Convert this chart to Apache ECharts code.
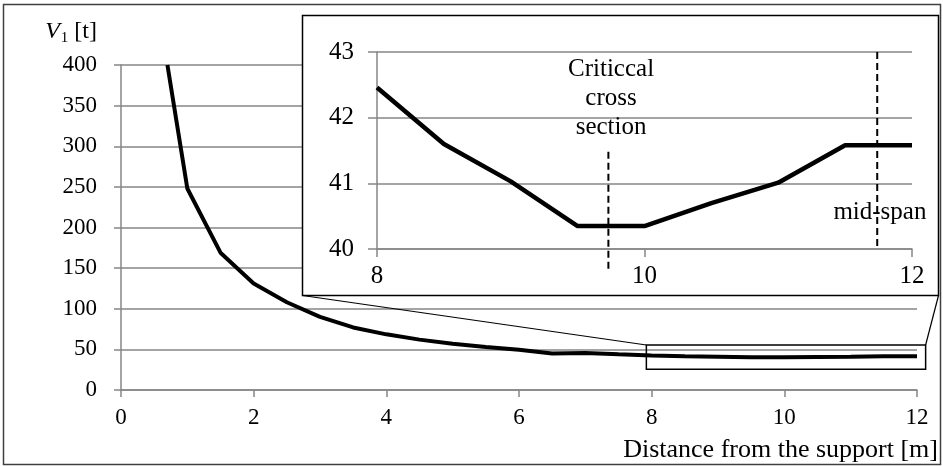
<!DOCTYPE html>
<html><head><meta charset="utf-8">
<script src="https://cdn.jsdelivr.net/npm/echarts@6/dist/echarts.min.js"></script>
<style>html,body{margin:0;padding:0;background:#fff;overflow:hidden}#c{width:943px;height:466px}</style>
</head><body><div id="c"></div>
<script>
// ---- data ----
const distance = [0.7, 1, 1.5, 2, 2.5, 3, 3.5, 4, 4.5, 5, 5.5, 6, 6.5, 7, 7.5, 8, 8.5, 9, 9.5, 10, 10.5, 11, 11.5, 12];
const shearV1  = [400, 248, 169, 131, 108, 90, 77, 68.5, 62, 57, 53, 49.5, 45, 45.6, 44, 42.46, 41.6, 41.03, 40.35, 40.35, 40.7, 41.01, 41.58, 41.58];
const mainXTicks = [0, 2, 4, 6, 8, 10, 12];
const mainYTicks = [0, 50, 100, 150, 200, 250, 300, 350, 400];
const insetXTicks = [8, 10, 12];
const insetYTicks = [40, 41, 42, 43];
const criticalSectionX = 9.73;
const criticalLineY = [41.48, 39.64];
const midSpanX = 11.74;
const midSpanLineY = [43, 40];
const criticalLabel = 'Criticcal\ncross\nsection';
const criticalLabelAt = [9.75, 42.3];
const midSpanLabel = 'mid-span';
const midSpanLabelAt = [11.76, 40.56];
const zoomWindowX = [7.92, 12.13];
const zoomWindowY = [25.5, 55.4];
const xTitle = 'Distance from the support [m]';

const FONT = "'Liberation Serif','Times New Roman',serif";
const GRID_C = '#868686';
const pts = distance.map((d, i) => [d, shearV1[i]]);
const insetPts = pts.filter(p => p[0] >= insetXTicks[0]);

function axisRange(t) { return { min: t[0], max: t[t.length - 1], interval: t[1] - t[0] }; }

const chart = echarts.init(document.getElementById('c'), null, { renderer: 'canvas' });
chart.setOption({
  animation: false,
  backgroundColor: '#fff',
  grid: [
    { left: 121, right: 26, top: 65, bottom: 76 },
    { left: 377, right: 31, top: 52, bottom: 217 }
  ],
  xAxis: [
    Object.assign({
      type: 'value', gridIndex: 0,
      name: xTitle, nameLocation: 'end', nameGap: 21,
      nameTextStyle: { fontFamily: FONT, fontSize: 26, color: '#000', align: 'right', verticalAlign: 'top', padding: [47, 0, 0, 0] },
      axisLine: { show: true, lineStyle: { color: GRID_C, width: 1.5 } },
      axisTick: { show: true, length: 7, lineStyle: { color: GRID_C, width: 1.5 } },
      axisLabel: { fontFamily: FONT, fontSize: 23, color: '#000', margin: 16 },
      splitLine: { show: false }
    }, axisRange(mainXTicks)),
    Object.assign({
      type: 'value', gridIndex: 1, z: 30,
      axisLine: { show: true, lineStyle: { color: GRID_C, width: 1.5 } },
      axisTick: { show: true, length: 8, lineStyle: { color: GRID_C, width: 1.5 } },
      axisLabel: { fontFamily: FONT, fontSize: 25, color: '#000', margin: 15 },
      splitLine: { show: false }
    }, axisRange(insetXTicks))
  ],
  yAxis: [
    Object.assign({
      type: 'value', gridIndex: 0,
      name: '{i|V}{s|1}{n| [t]}', nameLocation: 'end', nameGap: 19,
      nameTextStyle: {
        align: 'right', verticalAlign: 'bottom', padding: [0, 24, 0, 0],
        rich: {
          i: { fontFamily: FONT, fontSize: 24, fontStyle: 'italic', color: '#000', lineHeight: 28 },
          s: { fontFamily: FONT, fontSize: 15, color: '#000', lineHeight: 28, verticalAlign: 'bottom', padding: [0, 0, 0, 1] },
          n: { fontFamily: FONT, fontSize: 24, color: '#000', lineHeight: 28 }
        }
      },
      axisLine: { show: true, lineStyle: { color: GRID_C, width: 1.5 } },
      axisTick: { show: true, length: 7, lineStyle: { color: GRID_C, width: 1.5 } },
      axisLabel: { fontFamily: FONT, fontSize: 23, color: '#000', margin: 24 },
      splitLine: { show: true, lineStyle: { color: GRID_C, width: 1.5 } }
    }, axisRange(mainYTicks)),
    Object.assign({
      type: 'value', gridIndex: 1, z: 30,
      axisLine: { show: true, lineStyle: { color: GRID_C, width: 1.5 } },
      axisTick: { show: true, length: 9, lineStyle: { color: GRID_C, width: 1.5 } },
      axisLabel: { fontFamily: FONT, fontSize: 25, color: '#000', margin: 23 },
      splitLine: { show: true, lineStyle: { color: GRID_C, width: 1.5 } }
    }, axisRange(insetYTicks))
  ],
  series: [
    { type: 'line', xAxisIndex: 0, yAxisIndex: 0, data: pts, showSymbol: false, symbol: 'none',
      lineStyle: { color: '#000', width: 4 }, z: 2 },
    { type: 'line', xAxisIndex: 1, yAxisIndex: 1, data: insetPts, showSymbol: false, symbol: 'none',
      lineStyle: { color: '#000', width: 4.5 }, z: 32, clip: false },
    { type: 'line', xAxisIndex: 1, yAxisIndex: 1, symbol: 'none', clip: false, z: 33,
      data: criticalLineY.map(y => [criticalSectionX, y]),
      lineStyle: { color: '#000', width: 2, type: [7, 4] } },
    { type: 'line', xAxisIndex: 1, yAxisIndex: 1, symbol: 'none', clip: false, z: 33,
      data: midSpanLineY.map(y => [midSpanX, y]),
      lineStyle: { color: '#000', width: 2, type: [7, 4] } }
  ]
});

// zoom window, connectors, inset frame, outer frame and annotations
const zA = chart.convertToPixel({ gridIndex: 0 }, [zoomWindowX[0], zoomWindowY[1]]);
const zB = chart.convertToPixel({ gridIndex: 0 }, [zoomWindowX[1], zoomWindowY[0]]);
const cP = chart.convertToPixel({ gridIndex: 1 }, criticalLabelAt);
const mP = chart.convertToPixel({ gridIndex: 1 }, midSpanLabelAt);
const box = { x: 302.5, y: 15.5, w: 636, h: 280 };
chart.setOption({
  graphic: [
    { type: 'rect', z: 20, shape: { x: 3.5, y: 4.5, width: 937, height: 460 }, style: { fill: 'none', stroke: '#404040', lineWidth: 1.5 } },
    { type: 'rect', z: 20, shape: { x: zA[0], y: zA[1], width: zB[0] - zA[0], height: zB[1] - zA[1] }, style: { fill: 'none', stroke: '#000', lineWidth: 1.5 } },
    { type: 'line', z: 20, shape: { x1: box.x, y1: box.y + box.h, x2: zA[0], y2: zA[1] }, style: { stroke: '#000', lineWidth: 1.2 } },
    { type: 'line', z: 20, shape: { x1: box.x + box.w, y1: box.y + box.h, x2: zB[0], y2: zA[1] }, style: { stroke: '#000', lineWidth: 1.2 } },
    { type: 'rect', z: 21, shape: { x: box.x, y: box.y, width: box.w, height: box.h }, style: { fill: '#fff', stroke: '#000', lineWidth: 1.5 } },
    { type: 'text', z: 100, x: cP[0], y: cP[1],
      style: { text: criticalLabel, font: '25px ' + FONT, fill: '#000', align: 'center', verticalAlign: 'middle', lineHeight: 29 } },
    { type: 'text', z: 100, x: mP[0], y: mP[1],
      style: { text: midSpanLabel, font: '25px ' + FONT, fill: '#000', align: 'center', verticalAlign: 'middle' } }
  ]
});
</script>
</body></html>
